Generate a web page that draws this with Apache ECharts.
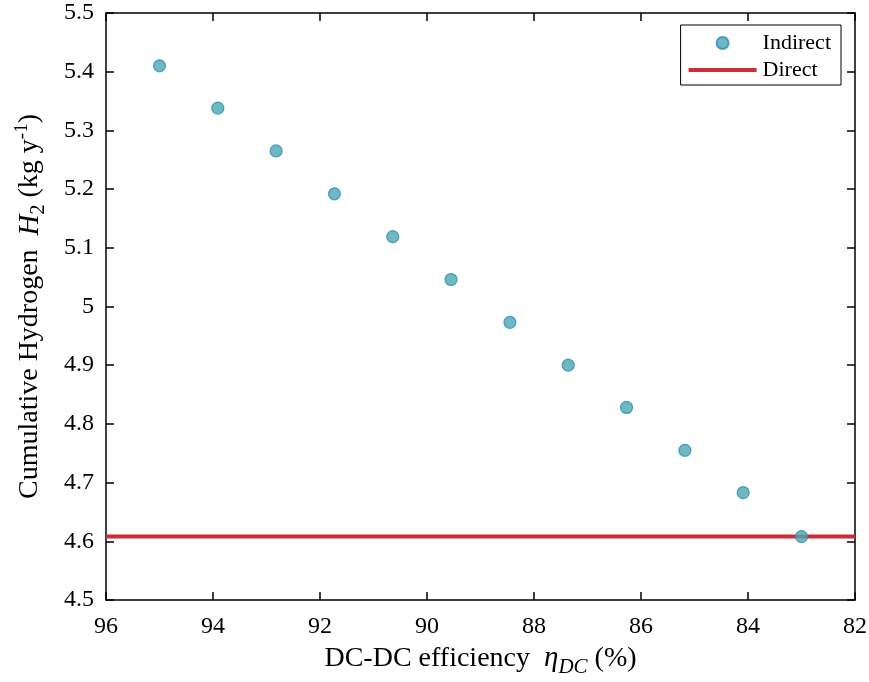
<!DOCTYPE html>
<html>
<head>
<meta charset="utf-8">
<script src="https://cdn.jsdelivr.net/npm/echarts@6/dist/echarts.min.js"></script>
<style>html,body{margin:0;padding:0;background:#fff}#c{width:869px;height:682px}</style>
</head>
<body>
<div id="c"></div>
<script>
const efficiency = [95, 93.91, 92.82, 91.73, 90.64, 89.55, 88.45, 87.36, 86.27, 85.18, 84.09, 83];
const indirect = [5.41, 5.338, 5.265, 5.192, 5.119, 5.046, 4.973, 4.900, 4.828, 4.755, 4.683, 4.608];
const directValue = 4.608;
const xRange = [82, 96];
const yRange = [4.5, 5.5];

const FONT = 'Liberation Serif';
const chart = echarts.init(document.getElementById('c'));
const scatterData = efficiency.map((x, i) => [x, indirect[i]]);
const lineData = [[xRange[1], directValue], [xRange[0], directValue]];

const axisCommon = {
  axisLine: {show: true, lineStyle: {color: '#000', width: 1.5}},
  axisTick: {show: true, inside: true, length: 8, lineStyle: {color: '#000', width: 1.5}},
  splitLine: {show: false}
};

chart.setOption({
  animation: false,
  backgroundColor: '#fff',
  grid: {left: 106, right: 14, top: 13, bottom: 82, containLabel: false, outerBoundsMode: 'none'},
  legend: {
    right: 28, top: 25,
    orient: 'vertical',
    backgroundColor: '#fff',
    borderColor: '#000', borderWidth: 1,
    borderRadius: 0,
    padding: [7, 10, 4, 8],
    itemGap: 5,
    itemWidth: 68, itemHeight: 12,
    textStyle: {fontFamily: FONT, fontSize: 22, color: '#000', padding: [0, 0, 0, 1]},
    data: [
      {name: 'Indirect', icon: 'circle'},
      {name: 'Direct', icon: 'path://M0,0 L68,0 L68,4 L0,4 Z'}
    ]
  },
  xAxis: [
    Object.assign({
      type: 'value', inverse: true, min: xRange[0], max: xRange[1], interval: 2,
      position: 'bottom',
      axisLabel: {fontFamily: FONT, fontSize: 24, color: '#000', margin: 15},
      name: 'DC-DC efficiency  {i|η}{sub|DC} {n|(%)}',
      nameLocation: 'middle', nameGap: 37,
      nameTextStyle: {
        fontFamily: FONT, fontSize: 28, color: '#000',
        rich: {
          i: {fontFamily: FONT, fontSize: 29, fontStyle: 'italic', color: '#000'},
          sub: {fontFamily: FONT, fontSize: 21, fontStyle: 'italic', color: '#000', padding: [18, 0, 0, 0]},
          n: {fontFamily: FONT, fontSize: 28, color: '#000'}
        }
      }
    }, axisCommon),
    Object.assign({
      type: 'value', inverse: true, min: xRange[0], max: xRange[1], interval: 2,
      position: 'top', axisLabel: {show: false}
    }, axisCommon)
  ],
  yAxis: [
    Object.assign({
      type: 'value', min: yRange[0], max: yRange[1], interval: 0.1,
      position: 'left',
      axisLabel: {fontFamily: FONT, fontSize: 24, color: '#000', margin: 12, padding: [5, 0, 0, 0],
        formatter: v => String(Math.round(v * 10) / 10)},
      name: 'Cumulative Hydrogen  {i|H}{sub|2} (kg y{sup|-1})',
      nameLocation: 'middle', nameGap: 57, nameRotate: 90,
      nameTextStyle: {
        fontFamily: FONT, fontSize: 28, color: '#000',
        rich: {
          i: {fontFamily: FONT, fontSize: 29, fontStyle: 'italic', color: '#000'},
          sub: {fontFamily: FONT, fontSize: 20, color: '#000', padding: [18, 0, 0, 0]},
          sup: {fontFamily: FONT, fontSize: 19, color: '#000', padding: [0, 0, 16, 0]}
        }
      }
    }, axisCommon),
    Object.assign({
      type: 'value', min: yRange[0], max: yRange[1], interval: 0.1,
      position: 'right', axisLabel: {show: false}
    }, axisCommon)
  ],
  series: [
    {
      name: 'Direct', type: 'line', data: lineData, symbol: 'none',
      lineStyle: {color: '#cc2d36', width: 4}, itemStyle: {color: '#cc2d36'}, z: 2
    },
    {
      name: 'Indirect', type: 'scatter', data: scatterData, symbol: 'circle', symbolSize: 12,
      itemStyle: {color: '#4ba6ae', borderColor: '#2a8ac6', borderWidth: 1.2}, z: 3
    }
  ]
});
</script>
</body>
</html>
